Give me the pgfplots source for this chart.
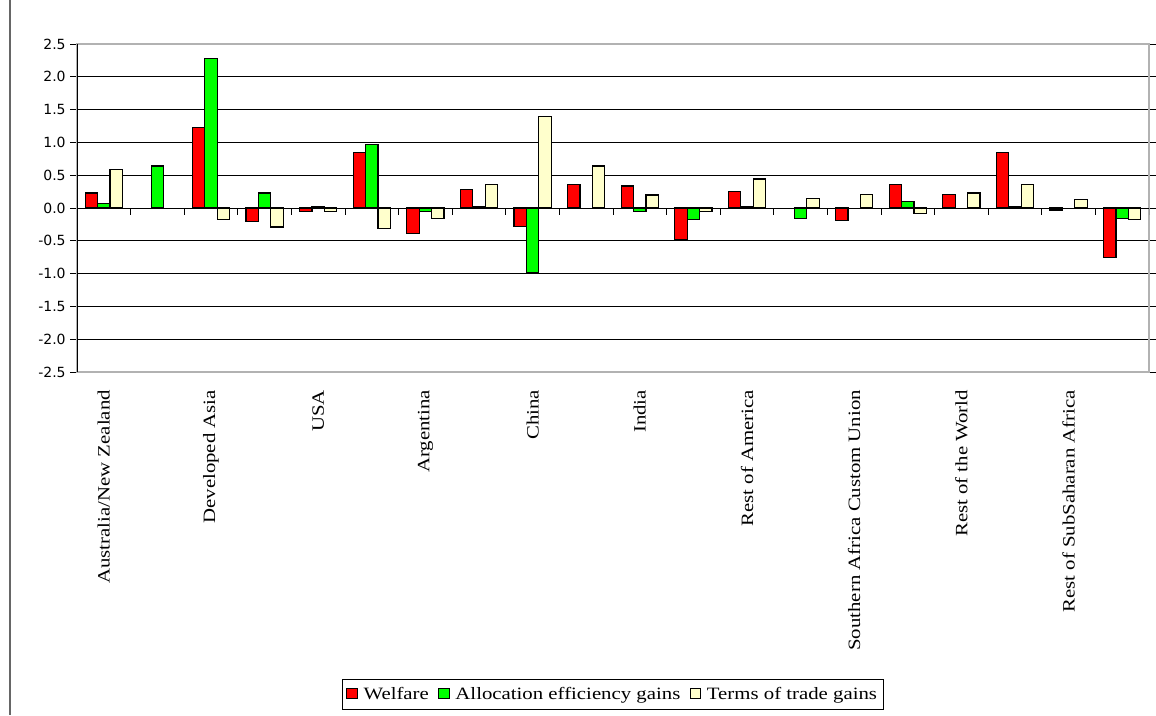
\documentclass[border=0pt]{standalone}
\usepackage{pgfplots}
\pgfplotsset{compat=1.18}
\usepackage{pgfplotstable}
\usepackage{fontspec}
\setmainfont{Liberation Serif}
\newfontfamily\catfont[FakeStretch=1.2]{Liberation Serif}
\newfontfamily\tickfont{DejaVu Sans}
\definecolor{cred}{HTML}{FF0000}
\definecolor{cgreen}{HTML}{00FF00}
\definecolor{cyel}{HTML}{FFFFCC}
\newcommand\lgf{\catfont\fontsize{13}{15}\selectfont}

\pgfplotstableread{
x w a t
0 0.23 0.07 0.59
1 nan 0.64 nan
2 1.23 2.28 -0.18
3 -0.21 0.23 -0.29
4 -0.05 0.025 -0.05
5 0.85 0.97 -0.31
6 -0.39 -0.05 -0.16
7 0.28 0.025 0.36
8 -0.28 -0.98 1.39
9 0.36 nan 0.64
10 0.335 -0.055 0.20
11 -0.49 -0.18 -0.05
12 0.25 0.025 0.44
13 nan -0.16 0.15
14 -0.19 nan 0.21
15 0.36 0.10 -0.08
16 0.21 nan 0.23
17 0.85 0.025 0.36
18 -0.03 nan 0.13
19 -0.75 -0.16 -0.18
}\datatable

\begin{document}
\begin{tikzpicture}
\path[use as bounding box] (0,0) rectangle (867pt,-536.25pt);
\draw[gray!80!black, line width=0.8pt] (7.5pt,0) -- (7.5pt,-536.25pt);
\begin{axis}[
  at={(57.75pt,-279pt)}, anchor=south west,
  scale only axis, width=804pt, height=246pt,
  xmin=-0.5, xmax=19.5, ymin=-2.5, ymax=2.5,
  ybar=0pt, bar width=9.3pt,
  axis line style={draw=gray!60, line width=0.9pt},
  ytick={-2.5,-2,...,2.5},
  yticklabel style={font=\tickfont\fontsize{10.5}{12}\selectfont, /pgf/number format/.cd, fixed, fixed zerofill, precision=1, assume math mode=true},
  ytick style={black, line width=0.6pt},
  tick align=outside, major tick length=5pt,
  xtick={0,2,...,18},
  xticklabels={Australia/New Zealand, Developed Asia, USA, Argentina, China, India, Rest of America, Southern Africa Custom Union, Rest of the World, Rest of SubSaharan Africa},
  xticklabel style={rotate=90, anchor=east, font=\lgf, xshift=-5pt},
  x tick style={draw=none},
  ymajorgrids, grid style={black, line width=0.6pt},
  area legend,
  legend columns=3,
  legend style={at={(0.5,-0.935)}, anchor=north, draw=black, line width=0.6pt, font=\lgf, inner xsep=3pt, inner ysep=4pt,
     /tikz/every even column/.append style={column sep=5pt}},
  legend image code/.code={\draw[#1, line width=0.8pt] (0pt,-3.5pt) rectangle (8pt,4.5pt);},
  every axis plot/.append style={draw=black, line width=1pt},
]
\addplot[fill=cred] table[x=x,y=w]{\datatable};
\addplot[fill=cgreen] table[x=x,y=a]{\datatable};
\addplot[fill=cyel] table[x=x,y=t]{\datatable};
\legend{{\,Welfare}, {\,Allocation efficiency gains}, {\,Terms of trade gains}}
\draw[black, line width=0.6pt] (rel axis cs:0,0) -- (rel axis cs:0,1);
\draw[black, line width=0.6pt] (axis cs:-0.5,0) -- (axis cs:19.5,0);
\pgfplotsinvokeforeach{0.5,1.5,2.5,3.5,4.5,5.5,6.5,7.5,8.5,9.5,10.5,11.5,12.5,13.5,14.5,15.5,16.5,17.5,18.5,19.5}{
  \draw[black, line width=0.6pt] (axis cs:#1,0) -- ([yshift=-5pt]axis cs:#1,0);
}
\end{axis}
\end{tikzpicture}
\end{document}
